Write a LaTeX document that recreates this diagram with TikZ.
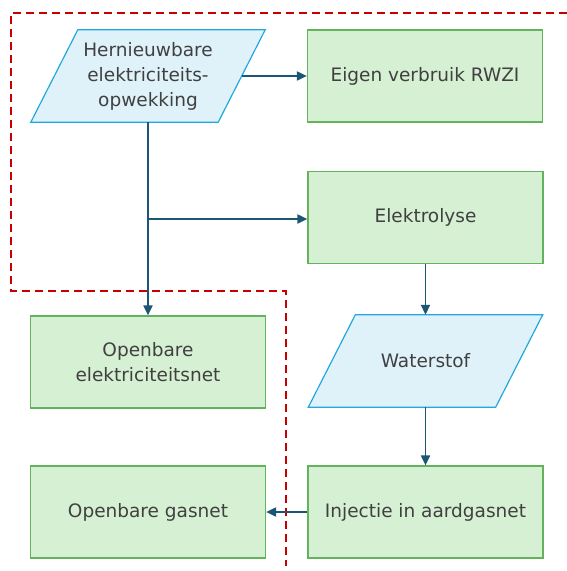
\documentclass[tikz,border=0pt]{standalone}
\usepackage{fontspec}
\setmainfont{DejaVu Sans}
\usetikzlibrary{arrows.meta,backgrounds}

\definecolor{boxgreen}{HTML}{D5F0D2}
\definecolor{linegreen}{HTML}{62B35B}
\definecolor{boxblue}{HTML}{DFF2FA}
\definecolor{lineblue}{HTML}{22A8DF}
\definecolor{flowcol}{HTML}{1B5675}
\definecolor{grenscol}{HTML}{C80000}
\definecolor{tekstcol}{HTML}{404040}

\tikzset{
  proces/.style={draw=linegreen,fill=boxgreen,line width=1.2pt,
    minimum width=235pt,minimum height=92pt,inner sep=0pt,
    align=center,text=tekstcol,font=\fontsize{18.5}{25}\selectfont},
  data/.style={minimum width=187pt,minimum height=92pt,inner sep=0pt,
    align=center,text=tekstcol,font=\fontsize{18.5}{25}\selectfont},
  datarand/.style={draw=lineblue,fill=boxblue,line width=1.2pt},
  flow/.style={draw=flowcol,line width=1.9pt,-{Triangle[length=10pt,width=9pt]}},
  grens/.style={draw=grenscol,line width=1.8pt,dash pattern=on 8pt off 5pt}
}

\begin{document}
\begin{tikzpicture}[x=1pt,y=-1pt,line join=miter]
  \useasboundingbox (0,0) rectangle (567,571);
  % systeemgrens
  \draw[grens] (567,13) -- (11,13) -- (11,291) -- (286,291) -- (286,566);
  % blokken
  \node[data] (opwek) at (148,76) {Hernieuwbare\\elektriciteits-\\opwekking};
  \node[proces] (eigen) at (425,76) {Eigen verbruik RWZI};
  \node[proces] (elek) at (425.5,217.5) {Elektrolyse};
  \node[proces] (net) at (148,362) {Openbare\\elektriciteitsnet};
  \node[data] (water) at (425.5,361) {Waterstof};
  \node[proces] (gas) at (148,512) {Openbare gasnet};
  \node[proces] (inj) at (425.5,512) {Injectie in aardgasnet};
  % parallellogrammen achter de tekst
  \begin{scope}[on background layer]
    \foreach \n in {opwek,water} {
      \draw[datarand] ([xshift=23.5pt]\n.north west) -- ([xshift=23.5pt]\n.north east)
        -- ([xshift=-23.5pt]\n.south east) -- ([xshift=-23.5pt]\n.south west) -- cycle;
    }
  \end{scope}
  % stromen
  \coordinate (tak) at (148,219);
  \draw[flow] (opwek.east) -- (eigen.west);
  \draw[flow] (opwek.south) -- (net.north);
  \draw[flow] (tak) -- (tak -| elek.west);
  \draw[flow] (elek.south) -- (water.north);
  \draw[flow] (water.south) -- (inj.north);
  \draw[flow] (inj.west) -- (gas.east);
\end{tikzpicture}
\end{document}
